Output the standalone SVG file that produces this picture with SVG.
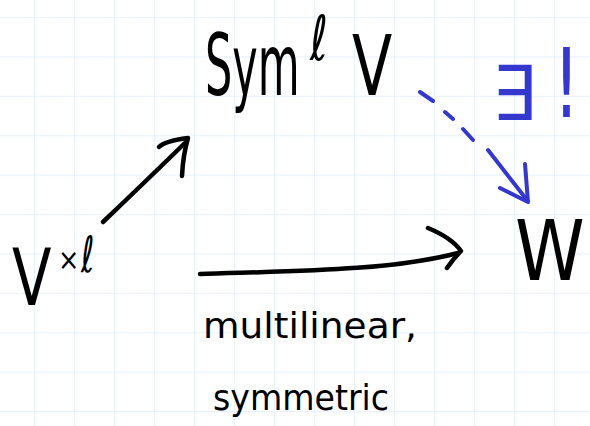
<svg xmlns="http://www.w3.org/2000/svg" width="590" height="426" viewBox="0 0 590 426">
  <defs>
    <pattern id="grid" x="34" y="17" width="40" height="39.4" patternUnits="userSpaceOnUse">
      <path d="M0,0 V39.4 M0,0 H40" fill="none" stroke="#e9f2fd" stroke-width="2.4"/>
    </pattern>
  </defs>
  <style>
    .ink { fill: #000; font-family: "DejaVu Sans", "Liberation Sans", sans-serif; }
    .blue { fill: #3538cc; font-family: "DejaVu Sans", "Liberation Sans", sans-serif; }
    .stroke { fill: none; stroke: #000; stroke-width: 4.5; stroke-linecap: round; stroke-linejoin: round; }
    .bstroke { fill: none; stroke: #3538cc; stroke-width: 4; stroke-linecap: round; stroke-linejoin: round; }
  </style>

  <!-- paper with light grid -->
  <rect width="590" height="426" fill="#ffffff"/>
  <rect width="590" height="426" fill="url(#grid)"/>

  <!-- Sym^l V (letters narrowed to a hand-written proportion) -->
  <g id="node-sym">
    <text class="ink" font-size="86" transform="translate(205,95) scale(0.5,1)">Sym</text>
    <text class="ink" font-size="62" transform="translate(310,60) scale(0.7,1)">ℓ</text>
    <text class="ink" font-size="84" transform="translate(352,95) scale(0.7,1)">V</text>
  </g>

  <!-- V^{x l} -->
  <g id="node-vxl">
    <text class="ink" font-size="78" transform="translate(12,305) scale(0.74,1)">V</text>
    <text class="ink" font-size="30" transform="translate(58,270) scale(0.85,1)">×</text>
    <text class="ink" font-size="50" transform="translate(81,272) scale(0.65,1)">ℓ</text>
  </g>

  <!-- W -->
  <g id="node-w">
    <text class="ink" font-size="84" transform="translate(515,280) scale(0.84,1)">W</text>
  </g>

  <!-- edge labels -->
  <g id="label-unique">
    <text class="blue" font-size="76" transform="translate(492,120) scale(0.92,1)">∃</text>
    <text class="blue" font-size="96" font-family="Liberation Sans, sans-serif" transform="translate(553,117) scale(0.7,1)">!</text>
  </g>
  <g id="label-multilinear">
    <text class="ink" x="203" y="338" font-size="36" textLength="214" lengthAdjust="spacingAndGlyphs">multilinear,</text>
    <text class="ink" x="213" y="410" font-size="36" textLength="176" lengthAdjust="spacingAndGlyphs">symmetric</text>
  </g>

  <!-- connectors -->
  <g id="connectors">
    <path class="stroke" d="M103,222 Q146,181 185,143"/>
    <path class="stroke" d="M159,147 Q165,141 188,138 Q183,155 182,176"/>
    <path class="stroke" d="M200,274 C290,271 390,271 458,253"/>
    <path class="stroke" d="M428,228 Q452,238 461,251 Q454,258 447,268"/>
    <g id="edge-unique">
      <path class="bstroke" d="M420,92 L433,101 M445,112 L453,119 M463,129 L473,140 M488,150 L527,200"/>
      <path class="bstroke" d="M500,188 L528,202 L525,164"/>
    </g>
  </g>
</svg>
